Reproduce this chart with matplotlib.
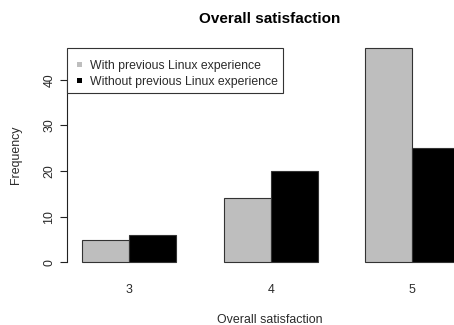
import numpy as np
import matplotlib
matplotlib.use("Agg")
from matplotlib import pyplot as plt
from matplotlib.patches import Rectangle

plt.rcParams['font.family'] = ['Liberation Sans', 'DejaVu Sans']

# answers to "overall satisfaction" (scale 3..5)
scores = ["3", "4", "5"]
with_linux = [5, 14, 47]
without_linux = [6, 20, 25]
series_names = ["With previous Linux experience", "Without previous Linux experience"]
series_colors = ["#bebebe", "#000000"]

W, H = 454, 325
txt = '#2a2a2a'

def fpos(x, y):
    # pixel position (top-left origin) -> figure fraction
    return x / W, 1 - y / H

fig = plt.figure(figsize=(W / 100, H / 100), dpi=100)
# plot region runs a bit past the right edge, like the R device did
ax = fig.add_axes([0.1474, 0.1665, 0.8976, 0.7123])

# R barplot(beside=TRUE) layout: 1 unit gap before each group, bars 1 unit wide
group_start = np.arange(len(scores)) * 3 + 1
ax.bar(group_start, with_linux, width=1, align='edge', color=series_colors[0],
       edgecolor='#333333', linewidth=0.8)
ax.bar(group_start + 1, without_linux, width=1, align='edge', color=series_colors[1],
       edgecolor='#333333', linewidth=0.8)

ymax = max(max(with_linux), max(without_linux))
ax.set_xlim(1 - 0.04 * 8, 9 + 0.04 * 8)
ax.set_ylim(-0.04 * ymax, ymax * 1.04)

for s in ['top', 'right', 'bottom']:
    ax.spines[s].set_visible(False)
ax.spines['left'].set_bounds(0, 40)
ax.spines['left'].set_color('#222222')
ax.spines['left'].set_linewidth(0.8)

ax.set_yticks([0, 10, 20, 30, 40])
ax.set_yticklabels(["0", "10", "20", "30", "40"], rotation=90, va='center')
ax.tick_params(axis='y', length=5, width=0.8, color='#222222', labelsize=8.9,
               pad=3.3, labelcolor=txt)

ax.set_xticks(group_start + 1)
ax.set_xticklabels(scores)
ax.tick_params(axis='x', length=0, pad=9.5, labelsize=8.9, labelcolor=txt)

fig.text(*fpos(270, 323), "Overall satisfaction", ha='center', va='baseline',
         fontsize=8.9, color=txt)
fig.text(*fpos(16, 155), "Frequency", ha='center', va='center',
         rotation=90, fontsize=8.9, color=txt)
fig.text(*fpos(270, 23.3), "Overall satisfaction", ha='center', va='baseline',
         fontsize=11, fontweight='bold')

# legend box drawn by hand, R style (topleft at x = usr left, y = max)
fig.patches.append(Rectangle(fpos(67, 93.3), (283 - 67) / W, (93.3 - 48.3) / H,
                             transform=fig.transFigure, facecolor='white',
                             edgecolor='#333333', linewidth=0.8, zorder=5))
for i, (name, col) in enumerate(zip(series_names, series_colors)):
    yb = 69.3 + i * 15.7
    fig.patches.append(Rectangle(fpos(76.5, yb - 2.3), 5 / W, 5 / H,
                                 transform=fig.transFigure, facecolor=col,
                                 edgecolor='none', zorder=6))
    fig.text(*fpos(90, yb), name, ha='left', va='baseline', fontsize=8.8,
             color=txt, zorder=6)

fig.savefig("out.png", dpi=100)
